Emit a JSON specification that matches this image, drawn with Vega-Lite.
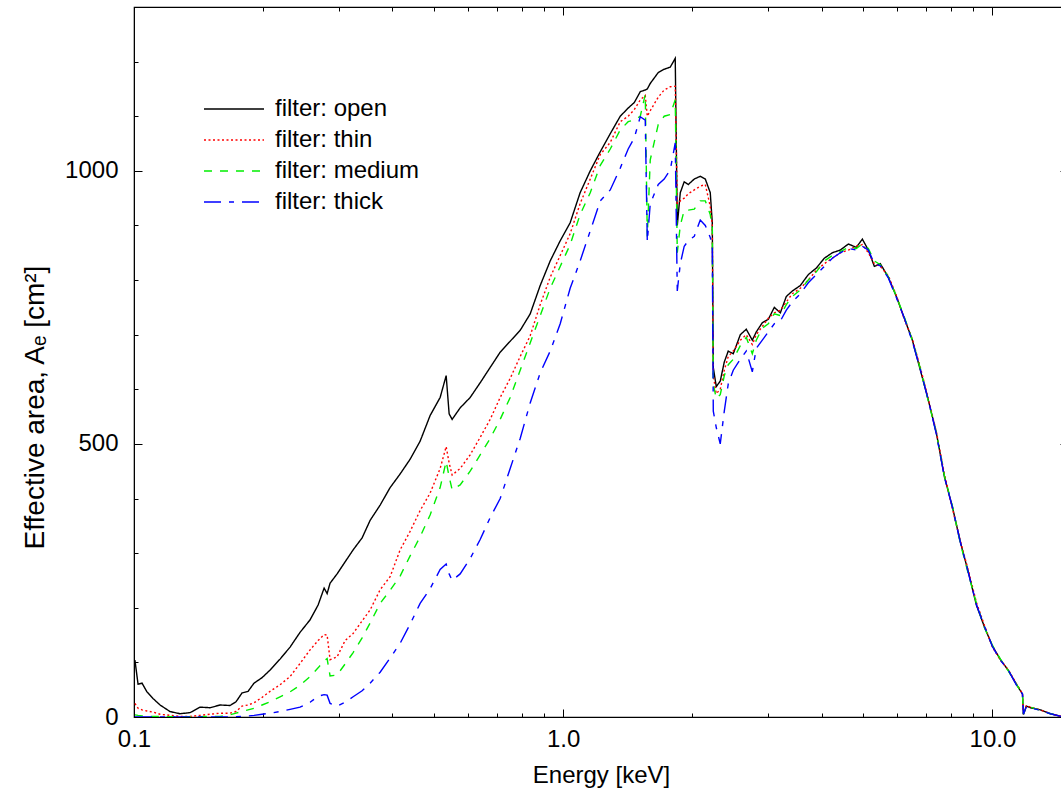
{
  "$schema": "https://vega.github.io/schema/vega-lite/v6.json",
  "width": 934,
  "height": 710,
  "autosize": "none",
  "padding": {"left": 134, "top": 7, "right": 0, "bottom": 73},
  "background": "white",
  "config": {
    "font": "Liberation Sans",
    "view": {"stroke": "black", "strokeWidth": 1.2},
    "axis": {"labelFont": "Liberation Sans", "titleFont": "Liberation Sans", "labelFontSize": 24, "titleFontSize": 24, "labelColor": "black", "titleColor": "black", "titleFontWeight": "normal", "domainColor": "black", "tickColor": "black", "grid": false, "labelOverlap": false, "labelBound": false, "labelFlush": false},
    "legend": {"orient": "none", "legendX": 88, "legendY": 90, "symbolType": "M-3,0H3", "symbolSize": 400, "symbolStrokeWidth": 1.5, "symbolFillColor": "transparent", "labelFontSize": 24, "labelFont": "Liberation Sans", "labelColor": "black", "labelOffset": 29, "rowPadding": 7, "padding": 0}
  },
  "data": {"values": [
{"E":0.1005,"A":104,"f":"open"},{"E":0.1022,"A":60,"f":"open"},{"E":0.1044,"A":62,"f":"open"},{"E":0.1072,"A":46,"f":"open"},{"E":0.1107,"A":34,"f":"open"},{"E":0.115,"A":22,"f":"open"},{"E":0.1213,"A":10,"f":"open"},{"E":0.128,"A":6,"f":"open"},{"E":0.1351,"A":8,"f":"open"},{"E":0.1425,"A":18,"f":"open"},{"E":0.1504,"A":17,"f":"open"},{"E":0.1587,"A":22,"f":"open"},{"E":0.1674,"A":21,"f":"open"},{"E":0.1729,"A":28,"f":"open"},{"E":0.1785,"A":44,"f":"open"},{"E":0.1844,"A":47,"f":"open"},{"E":0.1904,"A":62,"f":"open"},{"E":0.1988,"A":72,"f":"open"},{"E":0.2075,"A":86,"f":"open"},{"E":0.2189,"A":106,"f":"open"},{"E":0.231,"A":128,"f":"open"},{"E":0.2437,"A":155,"f":"open"},{"E":0.2572,"A":178,"f":"open"},{"E":0.2685,"A":205,"f":"open"},{"E":0.2773,"A":236,"f":"open"},{"E":0.2818,"A":226,"f":"open"},{"E":0.2863,"A":245,"f":"open"},{"E":0.2973,"A":262,"f":"open"},{"E":0.3103,"A":284,"f":"open"},{"E":0.324,"A":306,"f":"open"},{"E":0.34,"A":328,"f":"open"},{"E":0.3549,"A":360,"f":"open"},{"E":0.3745,"A":388,"f":"open"},{"E":0.3951,"A":420,"f":"open"},{"E":0.4169,"A":445,"f":"open"},{"E":0.4399,"A":472,"f":"open"},{"E":0.4641,"A":505,"f":"open"},{"E":0.4897,"A":552,"f":"open"},{"E":0.5167,"A":585,"f":"open"},{"E":0.5337,"A":625,"f":"open"},{"E":0.5423,"A":555,"f":"open"},{"E":0.5511,"A":545,"f":"open"},{"E":0.5753,"A":566,"f":"open"},{"E":0.607,"A":585,"f":"open"},{"E":0.6405,"A":612,"f":"open"},{"E":0.6758,"A":640,"f":"open"},{"E":0.7131,"A":668,"f":"open"},{"E":0.7524,"A":688,"f":"open"},{"E":0.7939,"A":708,"f":"open"},{"E":0.8376,"A":738,"f":"open"},{"E":0.8838,"A":790,"f":"open"},{"E":0.9325,"A":835,"f":"open"},{"E":0.984,"A":872,"f":"open"},{"E":1.038,"A":905,"f":"open"},{"E":1.095,"A":960,"f":"open"},{"E":1.156,"A":1000,"f":"open"},{"E":1.22,"A":1035,"f":"open"},{"E":1.287,"A":1068,"f":"open"},{"E":1.358,"A":1100,"f":"open"},{"E":1.417,"A":1115,"f":"open"},{"E":1.464,"A":1125,"f":"open"},{"E":1.512,"A":1145,"f":"open"},{"E":1.553,"A":1148,"f":"open"},{"E":1.57,"A":1150,"f":"open"},{"E":1.595,"A":1160,"f":"open"},{"E":1.665,"A":1180,"f":"open"},{"E":1.719,"A":1186,"f":"open"},{"E":1.776,"A":1190,"f":"open"},{"E":1.824,"A":1206,"f":"open"},{"E":1.844,"A":900,"f":"open"},{"E":1.874,"A":960,"f":"open"},{"E":1.914,"A":980,"f":"open"},{"E":1.956,"A":975,"f":"open"},{"E":2.02,"A":985,"f":"open"},{"E":2.086,"A":990,"f":"open"},{"E":2.143,"A":985,"f":"open"},{"E":2.201,"A":960,"f":"open"},{"E":2.225,"A":905,"f":"open"},{"E":2.237,"A":640,"f":"open"},{"E":2.273,"A":605,"f":"open"},{"E":2.322,"A":615,"f":"open"},{"E":2.373,"A":650,"f":"open"},{"E":2.424,"A":670,"f":"open"},{"E":2.49,"A":665,"f":"open"},{"E":2.586,"A":700,"f":"open"},{"E":2.67,"A":710,"f":"open"},{"E":2.758,"A":690,"f":"open"},{"E":2.817,"A":705,"f":"open"},{"E":2.91,"A":722,"f":"open"},{"E":3.005,"A":728,"f":"open"},{"E":3.103,"A":750,"f":"open"},{"E":3.205,"A":740,"f":"open"},{"E":3.31,"A":770,"f":"open"},{"E":3.418,"A":780,"f":"open"},{"E":3.568,"A":790,"f":"open"},{"E":3.724,"A":810,"f":"open"},{"E":3.888,"A":822,"f":"open"},{"E":4.058,"A":840,"f":"open"},{"E":4.236,"A":850,"f":"open"},{"E":4.422,"A":855,"f":"open"},{"E":4.616,"A":866,"f":"open"},{"E":4.819,"A":860,"f":"open"},{"E":4.977,"A":875,"f":"open"},{"E":5.139,"A":855,"f":"open"},{"E":5.308,"A":825,"f":"open"},{"E":5.481,"A":830,"f":"open"},{"E":5.722,"A":805,"f":"open"},{"E":5.973,"A":770,"f":"open"},{"E":6.235,"A":730,"f":"open"},{"E":6.508,"A":690,"f":"open"},{"E":6.794,"A":635,"f":"open"},{"E":7.092,"A":580,"f":"open"},{"E":7.403,"A":520,"f":"open"},{"E":7.728,"A":440,"f":"open"},{"E":8.067,"A":385,"f":"open"},{"E":8.421,"A":320,"f":"open"},{"E":8.79,"A":265,"f":"open"},{"E":9.176,"A":205,"f":"open"},{"E":9.579,"A":165,"f":"open"},{"E":10.0,"A":130,"f":"open"},{"E":10.44,"A":105,"f":"open"},{"E":10.9,"A":85,"f":"open"},{"E":11.37,"A":60,"f":"open"},{"E":11.75,"A":42,"f":"open"},{"E":11.81,"A":5,"f":"open"},{"E":12.0,"A":20,"f":"open"},{"E":12.26,"A":17,"f":"open"},{"E":12.94,"A":13,"f":"open"},{"E":13.65,"A":6,"f":"open"},{"E":14.48,"A":1,"f":"open"},{"E":15,"A":0.5,"f":"open"},
{"E":0.1005,"A":25,"f":"thin"},{"E":0.1022,"A":16,"f":"thin"},{"E":0.1044,"A":13,"f":"thin"},{"E":0.1072,"A":11,"f":"thin"},{"E":0.1107,"A":9,"f":"thin"},{"E":0.115,"A":5,"f":"thin"},{"E":0.1213,"A":3,"f":"thin"},{"E":0.128,"A":1,"f":"thin"},{"E":0.1351,"A":1,"f":"thin"},{"E":0.1425,"A":3,"f":"thin"},{"E":0.1504,"A":5,"f":"thin"},{"E":0.1587,"A":7,"f":"thin"},{"E":0.1674,"A":7,"f":"thin"},{"E":0.1729,"A":10,"f":"thin"},{"E":0.1785,"A":20,"f":"thin"},{"E":0.1844,"A":22,"f":"thin"},{"E":0.1904,"A":26,"f":"thin"},{"E":0.1988,"A":36,"f":"thin"},{"E":0.2075,"A":47,"f":"thin"},{"E":0.2189,"A":59,"f":"thin"},{"E":0.231,"A":74,"f":"thin"},{"E":0.2437,"A":98,"f":"thin"},{"E":0.2572,"A":123,"f":"thin"},{"E":0.2685,"A":140,"f":"thin"},{"E":0.2773,"A":151,"f":"thin"},{"E":0.2818,"A":150,"f":"thin"},{"E":0.2863,"A":105,"f":"thin"},{"E":0.2973,"A":110,"f":"thin"},{"E":0.3103,"A":140,"f":"thin"},{"E":0.324,"A":153,"f":"thin"},{"E":0.34,"A":176,"f":"thin"},{"E":0.3549,"A":196,"f":"thin"},{"E":0.3745,"A":233,"f":"thin"},{"E":0.3951,"A":257,"f":"thin"},{"E":0.4169,"A":306,"f":"thin"},{"E":0.4399,"A":340,"f":"thin"},{"E":0.4641,"A":378,"f":"thin"},{"E":0.4897,"A":410,"f":"thin"},{"E":0.5167,"A":455,"f":"thin"},{"E":0.5337,"A":495,"f":"thin"},{"E":0.5423,"A":465,"f":"thin"},{"E":0.5511,"A":443,"f":"thin"},{"E":0.5753,"A":455,"f":"thin"},{"E":0.607,"A":480,"f":"thin"},{"E":0.6405,"A":512,"f":"thin"},{"E":0.6758,"A":545,"f":"thin"},{"E":0.7131,"A":585,"f":"thin"},{"E":0.7524,"A":620,"f":"thin"},{"E":0.7939,"A":660,"f":"thin"},{"E":0.8376,"A":698,"f":"thin"},{"E":0.8838,"A":755,"f":"thin"},{"E":0.9325,"A":805,"f":"thin"},{"E":0.984,"A":845,"f":"thin"},{"E":1.038,"A":885,"f":"thin"},{"E":1.095,"A":940,"f":"thin"},{"E":1.156,"A":985,"f":"thin"},{"E":1.22,"A":1030,"f":"thin"},{"E":1.287,"A":1052,"f":"thin"},{"E":1.358,"A":1090,"f":"thin"},{"E":1.417,"A":1100,"f":"thin"},{"E":1.464,"A":1112,"f":"thin"},{"E":1.512,"A":1130,"f":"thin"},{"E":1.553,"A":1138,"f":"thin"},{"E":1.57,"A":1100,"f":"thin"},{"E":1.595,"A":1110,"f":"thin"},{"E":1.665,"A":1135,"f":"thin"},{"E":1.719,"A":1148,"f":"thin"},{"E":1.776,"A":1154,"f":"thin"},{"E":1.824,"A":1155,"f":"thin"},{"E":1.844,"A":940,"f":"thin"},{"E":1.874,"A":945,"f":"thin"},{"E":1.914,"A":950,"f":"thin"},{"E":1.956,"A":958,"f":"thin"},{"E":2.02,"A":965,"f":"thin"},{"E":2.086,"A":972,"f":"thin"},{"E":2.143,"A":975,"f":"thin"},{"E":2.201,"A":935,"f":"thin"},{"E":2.225,"A":900,"f":"thin"},{"E":2.237,"A":625,"f":"thin"},{"E":2.273,"A":592,"f":"thin"},{"E":2.322,"A":600,"f":"thin"},{"E":2.373,"A":635,"f":"thin"},{"E":2.424,"A":660,"f":"thin"},{"E":2.49,"A":670,"f":"thin"},{"E":2.586,"A":690,"f":"thin"},{"E":2.67,"A":700,"f":"thin"},{"E":2.758,"A":682,"f":"thin"},{"E":2.817,"A":700,"f":"thin"},{"E":2.91,"A":715,"f":"thin"},{"E":3.005,"A":730,"f":"thin"},{"E":3.103,"A":740,"f":"thin"},{"E":3.205,"A":745,"f":"thin"},{"E":3.31,"A":760,"f":"thin"},{"E":3.418,"A":775,"f":"thin"},{"E":3.568,"A":785,"f":"thin"},{"E":3.724,"A":800,"f":"thin"},{"E":3.888,"A":818,"f":"thin"},{"E":4.058,"A":830,"f":"thin"},{"E":4.236,"A":840,"f":"thin"},{"E":4.422,"A":850,"f":"thin"},{"E":4.616,"A":855,"f":"thin"},{"E":4.819,"A":862,"f":"thin"},{"E":4.977,"A":865,"f":"thin"},{"E":5.139,"A":850,"f":"thin"},{"E":5.308,"A":830,"f":"thin"},{"E":5.481,"A":825,"f":"thin"},{"E":5.722,"A":808,"f":"thin"},{"E":5.973,"A":772,"f":"thin"},{"E":6.235,"A":728,"f":"thin"},{"E":6.508,"A":692,"f":"thin"},{"E":6.794,"A":640,"f":"thin"},{"E":7.092,"A":582,"f":"thin"},{"E":7.403,"A":522,"f":"thin"},{"E":7.728,"A":445,"f":"thin"},{"E":8.067,"A":382,"f":"thin"},{"E":8.421,"A":322,"f":"thin"},{"E":8.79,"A":268,"f":"thin"},{"E":9.176,"A":210,"f":"thin"},{"E":9.579,"A":168,"f":"thin"},{"E":10.0,"A":128,"f":"thin"},{"E":10.44,"A":104,"f":"thin"},{"E":10.9,"A":86,"f":"thin"},{"E":11.37,"A":61,"f":"thin"},{"E":11.75,"A":43,"f":"thin"},{"E":11.81,"A":5,"f":"thin"},{"E":12.0,"A":21,"f":"thin"},{"E":12.26,"A":18,"f":"thin"},{"E":12.94,"A":13,"f":"thin"},{"E":13.65,"A":6,"f":"thin"},{"E":14.48,"A":1,"f":"thin"},{"E":15,"A":0.5,"f":"thin"},
{"E":0.1005,"A":4,"f":"medium"},{"E":0.1022,"A":3,"f":"medium"},{"E":0.1044,"A":2,"f":"medium"},{"E":0.1072,"A":1.5,"f":"medium"},{"E":0.1107,"A":1,"f":"medium"},{"E":0.115,"A":1,"f":"medium"},{"E":0.1213,"A":0.5,"f":"medium"},{"E":0.128,"A":0.5,"f":"medium"},{"E":0.1351,"A":0.5,"f":"medium"},{"E":0.1425,"A":0.5,"f":"medium"},{"E":0.1504,"A":1,"f":"medium"},{"E":0.1587,"A":1,"f":"medium"},{"E":0.1674,"A":4,"f":"medium"},{"E":0.1729,"A":7,"f":"medium"},{"E":0.1785,"A":10,"f":"medium"},{"E":0.1844,"A":13,"f":"medium"},{"E":0.1904,"A":16,"f":"medium"},{"E":0.1988,"A":22,"f":"medium"},{"E":0.2075,"A":28,"f":"medium"},{"E":0.2189,"A":37,"f":"medium"},{"E":0.231,"A":46,"f":"medium"},{"E":0.2437,"A":58,"f":"medium"},{"E":0.2572,"A":74,"f":"medium"},{"E":0.2685,"A":90,"f":"medium"},{"E":0.2773,"A":103,"f":"medium"},{"E":0.2818,"A":107,"f":"medium"},{"E":0.2863,"A":75,"f":"medium"},{"E":0.2973,"A":77,"f":"medium"},{"E":0.3103,"A":97,"f":"medium"},{"E":0.324,"A":118,"f":"medium"},{"E":0.34,"A":145,"f":"medium"},{"E":0.3549,"A":172,"f":"medium"},{"E":0.3745,"A":208,"f":"medium"},{"E":0.3951,"A":232,"f":"medium"},{"E":0.4169,"A":258,"f":"medium"},{"E":0.4399,"A":295,"f":"medium"},{"E":0.4641,"A":330,"f":"medium"},{"E":0.4897,"A":370,"f":"medium"},{"E":0.5167,"A":420,"f":"medium"},{"E":0.5337,"A":468,"f":"medium"},{"E":0.5423,"A":440,"f":"medium"},{"E":0.5511,"A":416,"f":"medium"},{"E":0.5753,"A":425,"f":"medium"},{"E":0.607,"A":450,"f":"medium"},{"E":0.6405,"A":480,"f":"medium"},{"E":0.6758,"A":510,"f":"medium"},{"E":0.7131,"A":545,"f":"medium"},{"E":0.7524,"A":585,"f":"medium"},{"E":0.7939,"A":635,"f":"medium"},{"E":0.8376,"A":685,"f":"medium"},{"E":0.8838,"A":735,"f":"medium"},{"E":0.9325,"A":785,"f":"medium"},{"E":0.984,"A":825,"f":"medium"},{"E":1.038,"A":865,"f":"medium"},{"E":1.095,"A":920,"f":"medium"},{"E":1.156,"A":960,"f":"medium"},{"E":1.22,"A":1010,"f":"medium"},{"E":1.287,"A":1040,"f":"medium"},{"E":1.358,"A":1075,"f":"medium"},{"E":1.417,"A":1090,"f":"medium"},{"E":1.464,"A":1093,"f":"medium"},{"E":1.512,"A":1100,"f":"medium"},{"E":1.553,"A":1140,"f":"medium"},{"E":1.57,"A":880,"f":"medium"},{"E":1.595,"A":1020,"f":"medium"},{"E":1.665,"A":1085,"f":"medium"},{"E":1.719,"A":1100,"f":"medium"},{"E":1.776,"A":1103,"f":"medium"},{"E":1.824,"A":1130,"f":"medium"},{"E":1.844,"A":850,"f":"medium"},{"E":1.874,"A":900,"f":"medium"},{"E":1.914,"A":928,"f":"medium"},{"E":1.956,"A":928,"f":"medium"},{"E":2.02,"A":930,"f":"medium"},{"E":2.086,"A":945,"f":"medium"},{"E":2.143,"A":945,"f":"medium"},{"E":2.201,"A":920,"f":"medium"},{"E":2.225,"A":895,"f":"medium"},{"E":2.237,"A":610,"f":"medium"},{"E":2.273,"A":583,"f":"medium"},{"E":2.322,"A":590,"f":"medium"},{"E":2.373,"A":625,"f":"medium"},{"E":2.424,"A":645,"f":"medium"},{"E":2.49,"A":655,"f":"medium"},{"E":2.586,"A":680,"f":"medium"},{"E":2.67,"A":695,"f":"medium"},{"E":2.758,"A":665,"f":"medium"},{"E":2.817,"A":690,"f":"medium"},{"E":2.91,"A":712,"f":"medium"},{"E":3.005,"A":720,"f":"medium"},{"E":3.103,"A":738,"f":"medium"},{"E":3.205,"A":735,"f":"medium"},{"E":3.31,"A":755,"f":"medium"},{"E":3.418,"A":770,"f":"medium"},{"E":3.568,"A":782,"f":"medium"},{"E":3.724,"A":800,"f":"medium"},{"E":3.888,"A":815,"f":"medium"},{"E":4.058,"A":835,"f":"medium"},{"E":4.236,"A":845,"f":"medium"},{"E":4.422,"A":852,"f":"medium"},{"E":4.616,"A":860,"f":"medium"},{"E":4.819,"A":858,"f":"medium"},{"E":4.977,"A":866,"f":"medium"},{"E":5.139,"A":858,"f":"medium"},{"E":5.308,"A":835,"f":"medium"},{"E":5.481,"A":828,"f":"medium"},{"E":5.722,"A":806,"f":"medium"},{"E":5.973,"A":770,"f":"medium"},{"E":6.235,"A":732,"f":"medium"},{"E":6.508,"A":690,"f":"medium"},{"E":6.794,"A":638,"f":"medium"},{"E":7.092,"A":578,"f":"medium"},{"E":7.403,"A":520,"f":"medium"},{"E":7.728,"A":442,"f":"medium"},{"E":8.067,"A":386,"f":"medium"},{"E":8.421,"A":318,"f":"medium"},{"E":8.79,"A":262,"f":"medium"},{"E":9.176,"A":208,"f":"medium"},{"E":9.579,"A":164,"f":"medium"},{"E":10.0,"A":131,"f":"medium"},{"E":10.44,"A":106,"f":"medium"},{"E":10.9,"A":84,"f":"medium"},{"E":11.37,"A":60,"f":"medium"},{"E":11.75,"A":42,"f":"medium"},{"E":11.81,"A":5,"f":"medium"},{"E":12.0,"A":20,"f":"medium"},{"E":12.26,"A":18,"f":"medium"},{"E":12.94,"A":12,"f":"medium"},{"E":13.65,"A":6,"f":"medium"},{"E":14.48,"A":1,"f":"medium"},{"E":15,"A":0.5,"f":"medium"},
{"E":0.1005,"A":0.3,"f":"thick"},{"E":0.1351,"A":0.3,"f":"thick"},{"E":0.1674,"A":0.3,"f":"thick"},{"E":0.1729,"A":0.5,"f":"thick"},{"E":0.1785,"A":1,"f":"thick"},{"E":0.1844,"A":2,"f":"thick"},{"E":0.1904,"A":3,"f":"thick"},{"E":0.1988,"A":5,"f":"thick"},{"E":0.2075,"A":7,"f":"thick"},{"E":0.2189,"A":10,"f":"thick"},{"E":0.231,"A":14,"f":"thick"},{"E":0.2437,"A":18,"f":"thick"},{"E":0.2572,"A":27,"f":"thick"},{"E":0.2685,"A":38,"f":"thick"},{"E":0.2773,"A":41,"f":"thick"},{"E":0.2818,"A":40,"f":"thick"},{"E":0.2863,"A":25,"f":"thick"},{"E":0.2973,"A":20,"f":"thick"},{"E":0.3103,"A":27,"f":"thick"},{"E":0.324,"A":37,"f":"thick"},{"E":0.34,"A":48,"f":"thick"},{"E":0.3549,"A":62,"f":"thick"},{"E":0.3745,"A":82,"f":"thick"},{"E":0.3951,"A":108,"f":"thick"},{"E":0.4169,"A":135,"f":"thick"},{"E":0.4399,"A":170,"f":"thick"},{"E":0.4641,"A":208,"f":"thick"},{"E":0.4897,"A":235,"f":"thick"},{"E":0.5167,"A":270,"f":"thick"},{"E":0.5337,"A":280,"f":"thick"},{"E":0.5423,"A":262,"f":"thick"},{"E":0.5511,"A":250,"f":"thick"},{"E":0.5753,"A":262,"f":"thick"},{"E":0.607,"A":290,"f":"thick"},{"E":0.6405,"A":325,"f":"thick"},{"E":0.6758,"A":365,"f":"thick"},{"E":0.7131,"A":400,"f":"thick"},{"E":0.7524,"A":455,"f":"thick"},{"E":0.7939,"A":510,"f":"thick"},{"E":0.8376,"A":575,"f":"thick"},{"E":0.8838,"A":630,"f":"thick"},{"E":0.9325,"A":670,"f":"thick"},{"E":0.984,"A":720,"f":"thick"},{"E":1.038,"A":785,"f":"thick"},{"E":1.095,"A":835,"f":"thick"},{"E":1.156,"A":890,"f":"thick"},{"E":1.22,"A":945,"f":"thick"},{"E":1.287,"A":965,"f":"thick"},{"E":1.358,"A":1005,"f":"thick"},{"E":1.417,"A":1040,"f":"thick"},{"E":1.464,"A":1060,"f":"thick"},{"E":1.512,"A":1099,"f":"thick"},{"E":1.553,"A":1093,"f":"thick"},{"E":1.57,"A":870,"f":"thick"},{"E":1.595,"A":940,"f":"thick"},{"E":1.665,"A":975,"f":"thick"},{"E":1.719,"A":985,"f":"thick"},{"E":1.776,"A":1002,"f":"thick"},{"E":1.824,"A":1051,"f":"thick"},{"E":1.844,"A":780,"f":"thick"},{"E":1.874,"A":830,"f":"thick"},{"E":1.914,"A":862,"f":"thick"},{"E":1.956,"A":872,"f":"thick"},{"E":2.02,"A":880,"f":"thick"},{"E":2.086,"A":910,"f":"thick"},{"E":2.143,"A":900,"f":"thick"},{"E":2.201,"A":878,"f":"thick"},{"E":2.225,"A":860,"f":"thick"},{"E":2.237,"A":560,"f":"thick"},{"E":2.273,"A":530,"f":"thick"},{"E":2.322,"A":500,"f":"thick"},{"E":2.373,"A":560,"f":"thick"},{"E":2.424,"A":610,"f":"thick"},{"E":2.49,"A":635,"f":"thick"},{"E":2.586,"A":655,"f":"thick"},{"E":2.67,"A":670,"f":"thick"},{"E":2.758,"A":632,"f":"thick"},{"E":2.817,"A":675,"f":"thick"},{"E":2.91,"A":690,"f":"thick"},{"E":3.005,"A":705,"f":"thick"},{"E":3.103,"A":720,"f":"thick"},{"E":3.205,"A":725,"f":"thick"},{"E":3.31,"A":745,"f":"thick"},{"E":3.418,"A":760,"f":"thick"},{"E":3.568,"A":775,"f":"thick"},{"E":3.724,"A":795,"f":"thick"},{"E":3.888,"A":810,"f":"thick"},{"E":4.058,"A":825,"f":"thick"},{"E":4.236,"A":840,"f":"thick"},{"E":4.422,"A":850,"f":"thick"},{"E":4.616,"A":858,"f":"thick"},{"E":4.819,"A":855,"f":"thick"},{"E":4.977,"A":862,"f":"thick"},{"E":5.139,"A":855,"f":"thick"},{"E":5.308,"A":830,"f":"thick"},{"E":5.481,"A":826,"f":"thick"},{"E":5.722,"A":804,"f":"thick"},{"E":5.973,"A":768,"f":"thick"},{"E":6.235,"A":730,"f":"thick"},{"E":6.508,"A":688,"f":"thick"},{"E":6.794,"A":636,"f":"thick"},{"E":7.092,"A":580,"f":"thick"},{"E":7.403,"A":518,"f":"thick"},{"E":7.728,"A":440,"f":"thick"},{"E":8.067,"A":384,"f":"thick"},{"E":8.421,"A":320,"f":"thick"},{"E":8.79,"A":264,"f":"thick"},{"E":9.176,"A":206,"f":"thick"},{"E":9.579,"A":166,"f":"thick"},{"E":10.0,"A":129,"f":"thick"},{"E":10.44,"A":104,"f":"thick"},{"E":10.9,"A":85,"f":"thick"},{"E":11.37,"A":59,"f":"thick"},{"E":11.75,"A":42,"f":"thick"},{"E":11.81,"A":5,"f":"thick"},{"E":12.0,"A":19,"f":"thick"},{"E":12.26,"A":17,"f":"thick"},{"E":12.94,"A":12,"f":"thick"},{"E":13.65,"A":6,"f":"thick"},{"E":14.48,"A":1,"f":"thick"},{"E":15,"A":0.5,"f":"thick"}
  ]},
  "layer": [
    {
      "mark": {"type": "line", "strokeWidth": 1.4, "clip": true},
      "encoding": {
        "x": {"field": "E", "type": "quantitative",
          "scale": {"type": "log", "domain": [0.1, 15], "nice": false},
          "axis": {"orient": "bottom", "title": "Energy [keV]", "values": [0.1,0.2,0.3,0.4,0.5,0.6,0.7,0.8,0.9,1,2,3,4,5,6,7,8,9,10],
            "labelExpr": "datum.value == 0.1 ? '0.1' : datum.value == 1 ? '1.0' : datum.value == 10 ? '10.0' : ''",
            "tickSize": {"condition": {"test": "datum.value == 0.1 || datum.value == 1 || datum.value == 10", "value": -8}, "value": -4},
            "labelPadding": 18, "titlePadding": 8}},
        "y": {"field": "A", "type": "quantitative",
          "scale": {"domain": [0, 1300], "nice": false},
          "axis": {"orient": "left", "title": "Effective area, Aₑ [cm²]", "values": [0,100,200,300,400,500,600,700,800,900,1000,1100,1200,1300],
            "labelExpr": "datum.value % 500 == 0 ? format(datum.value, 'd') : ''",
            "tickSize": {"condition": {"test": "datum.value % 500 == 0", "value": -8}, "value": -4},
            "labelPadding": 24, "titleFontSize": 28, "titleY": 400, "titleX": -91, "titleBaseline": "alphabetic", "titleAngle": -90, "titleAlign": "center"}},
        "color": {"field": "f", "type": "nominal",
          "scale": {"domain": ["open", "thin", "medium", "thick"], "range": ["#000000", "#ff0000", "#00ee00", "#0000ff"]},
          "legend": {"title": null, "labelExpr": "'filter: ' + datum.label"}},
        "strokeDash": {"field": "f", "type": "nominal",
          "scale": {"domain": ["open", "thin", "medium", "thick"], "range": [[1, 0], [2, 2.5], [8, 8], [17, 8, 5, 8]]},
          "legend": {"title": null, "labelExpr": "'filter: ' + datum.label"}}
      }
    },
    {
      "mark": {"type": "line", "opacity": 0},
      "encoding": {
        "x": {"field": "E", "type": "quantitative",
          "axis": {"orient": "top", "title": null, "labels": false, "domain": false, "values": [0.1,0.2,0.3,0.4,0.5,0.6,0.7,0.8,0.9,1,2,3,4,5,6,7,8,9,10],
            "tickSize": {"condition": {"test": "datum.value == 0.1 || datum.value == 1 || datum.value == 10", "value": -8}, "value": -4}}},
        "y": {"field": "A", "type": "quantitative",
          "axis": {"orient": "right", "title": null, "labels": false, "domain": false, "values": [0,100,200,300,400,500,600,700,800,900,1000,1100,1200,1300],
            "tickSize": {"condition": {"test": "datum.value % 500 == 0", "value": -8}, "value": -4}}},
        "detail": {"field": "f", "type": "nominal"}
      }
    }
  ],
  "resolve": {"axis": {"x": "independent", "y": "independent"}}
}
